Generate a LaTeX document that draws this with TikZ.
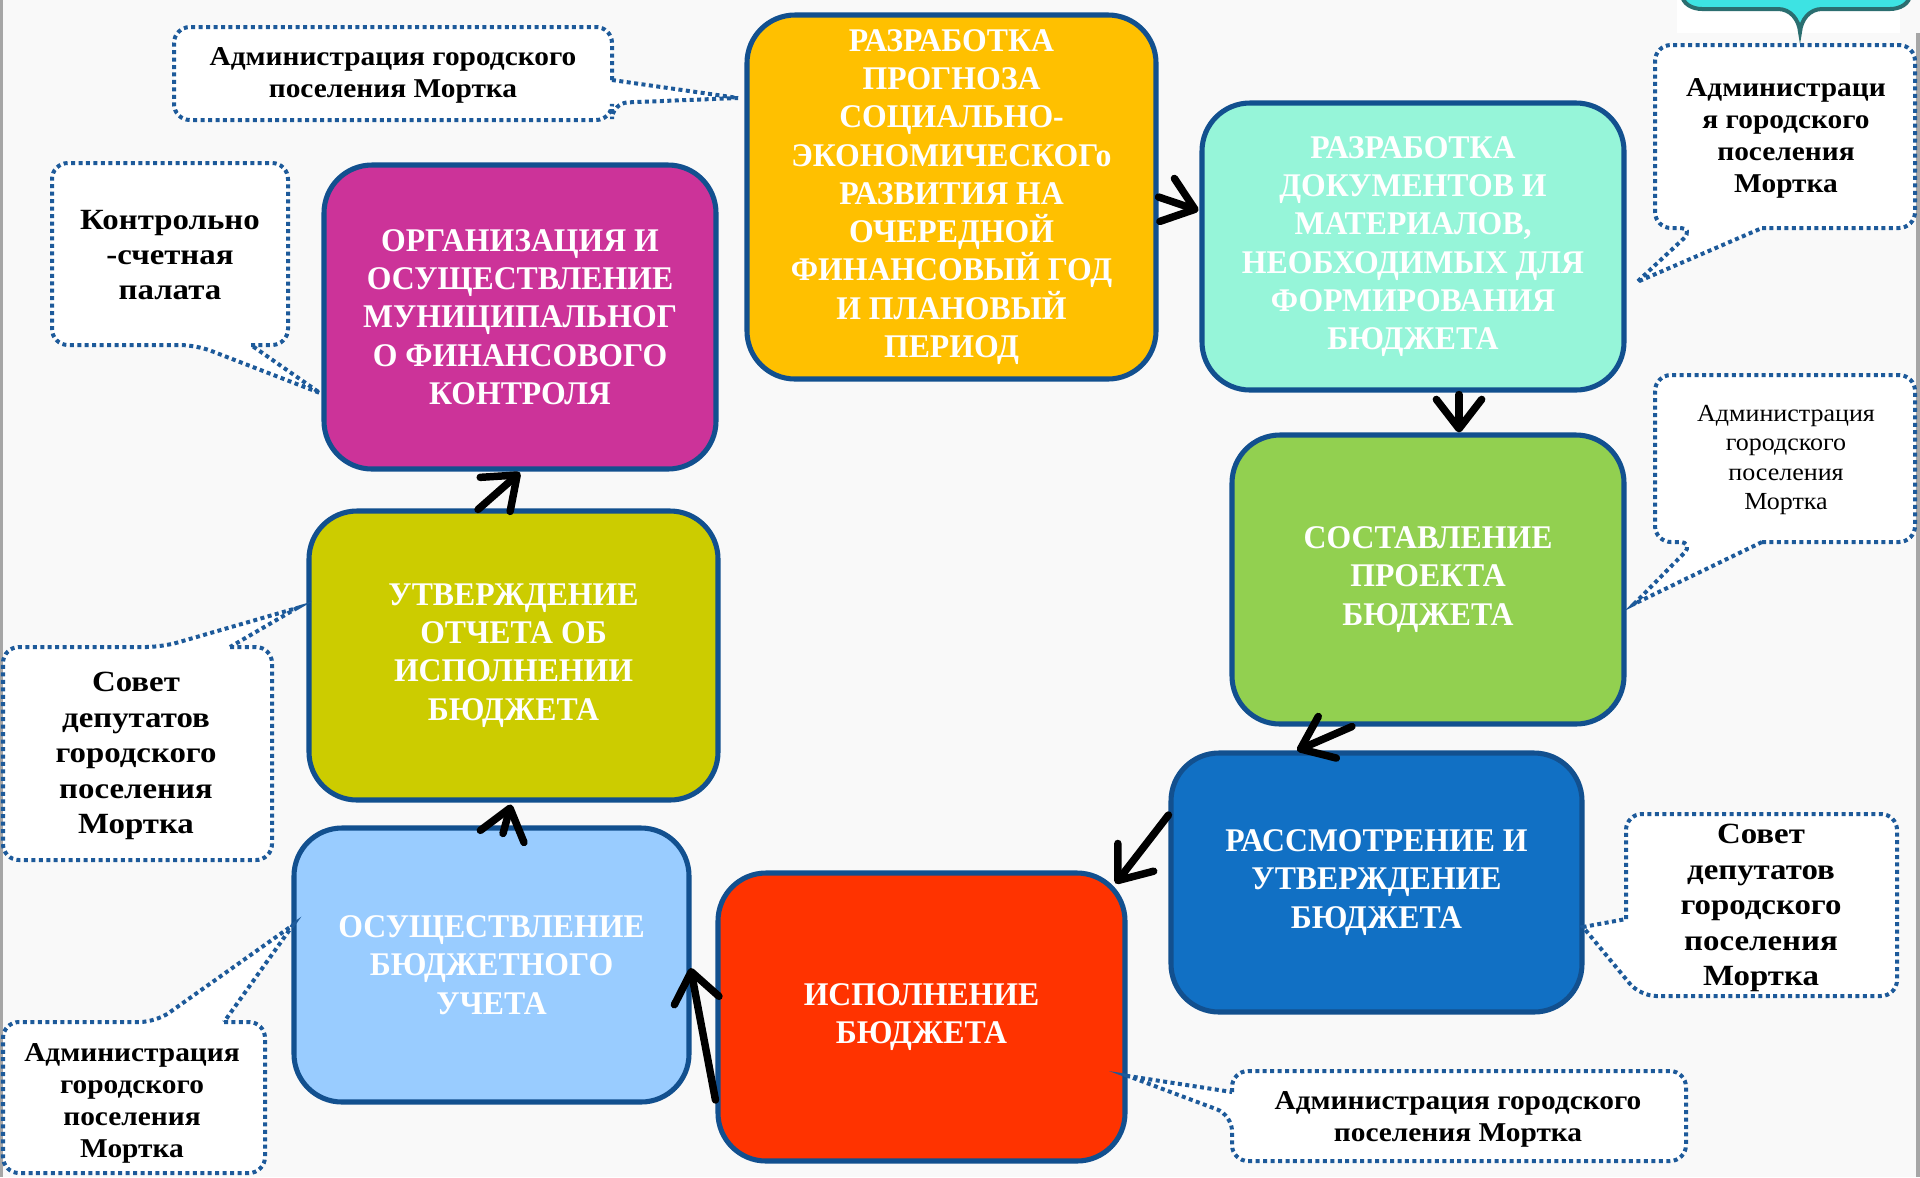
\documentclass[tikz,border=0pt]{standalone}
\usepackage{fontspec}
\setmainfont{Liberation Serif}
\newfontfamily\boxfont[FakeStretch=0.96]{Liberation Serif}
\newfontfamily\calfont[FakeStretch=1.08]{Liberation Serif}
\newfontfamily\calbigfont[FakeStretch=1.12]{Liberation Serif}
\newfontfamily\calthinfont[FakeStretch=1.06]{Liberation Serif}
\usetikzlibrary{arrows.meta,calc}
\definecolor{bgc}{HTML}{F9F9F9}
\definecolor{bordc}{HTML}{12508F}
\definecolor{dotc}{HTML}{1D5A9A}
\definecolor{cyellow}{HTML}{FFC000}
\definecolor{caqua}{HTML}{96F5D9}
\definecolor{cgreen}{HTML}{92D050}
\definecolor{cblue}{HTML}{1170C4}
\definecolor{cred}{HTML}{FF3300}
\definecolor{clblue}{HTML}{99CCFF}
\definecolor{colive}{HTML}{CCCC00}
\definecolor{cmag}{HTML}{CC3399}
\definecolor{ccyan}{HTML}{3DE3E3}
\definecolor{ccyanb}{HTML}{2B6E70}
\begin{document}
\begin{tikzpicture}[x=0.375pt,y=-0.375pt,
  stage/.style={draw=bordc, line width=1.9pt, rounded corners=18pt, align=center,
    text=white, font=\boxfont\bfseries\fontsize{12.4}{14.35}\selectfont, inner sep=0pt},
  calltext/.style={align=center, text=black, inner sep=0pt,
    font=\calfont\bfseries\fontsize{10.2}{12}\selectfont},
  callbig/.style={calltext, font=\calbigfont\bfseries\fontsize{11}{13.3}\selectfont},
  callthin/.style={calltext, font=\calthinfont\fontsize{9.2}{10.9}\selectfont},
  callline/.style={draw=dotc, line width=1.5pt, dash pattern=on 1.5pt off 1.3pt, rounded corners=6pt},
  flow/.style={draw=black, line width=2.8pt, line cap=round,
    -{Straight Barb[length=11pt,width=17pt,round]}}
]
\useasboundingbox (0,0) rectangle (1920,1177);
\fill[bgc] (0,0) rectangle (1920,1177);
\fill[gray!70] (0,0) rectangle (2.5,1177);
\fill[gray!70] (1916,33) rectangle (1920,1177);

% top-right partial callout
\fill[white] (1677,0) rectangle (1900,33);
\draw[fill=ccyan, draw=ccyanb, line width=1.5pt]
  (1682,-20) -- (1682,-6) to[out=-90,in=180] (1702,9) -- (1778,9)
  to[out=0,in=95] (1800,32) to[out=85,in=180] (1822,9) -- (1890,9)
  to[out=0,in=-90] (1910,-6) -- (1910,-20);

% main stages
\node[stage, fill=cyellow, minimum width=409*0.375pt, minimum height=364*0.375pt] (yellow) at (951.5,197)
  {РАЗРАБОТКА\\ПРОГНОЗА\\СОЦИАЛЬНО-\\ЭКОНОМИЧЕСКОГо\\РАЗВИТИЯ НА\\ОЧЕРЕДНОЙ\\ФИНАНСОВЫЙ ГОД\\И ПЛАНОВЫЙ\\ПЕРИОД};
\node[stage, fill=caqua, minimum width=422*0.375pt, minimum height=287*0.375pt] (aqua) at (1413,246.5)
  {РАЗРАБОТКА\\ДОКУМЕНТОВ И\\МАТЕРИАЛОВ,\\НЕОБХОДИМЫХ ДЛЯ\\ФОРМИРОВАНИЯ\\БЮДЖЕТА};
\node[stage, fill=cgreen, minimum width=392*0.375pt, minimum height=289*0.375pt] (green) at (1428,579.5)
  {СОСТАВЛЕНИЕ\\ПРОЕКТА\\БЮДЖЕТА};
\node[stage, fill=cblue, minimum width=411*0.375pt, minimum height=259*0.375pt] (blue) at (1376.5,882.5)
  {РАССМОТРЕНИЕ И\\УТВЕРЖДЕНИЕ\\БЮДЖЕТА};
\node[stage, fill=cred, minimum width=407*0.375pt, minimum height=288*0.375pt] (red) at (921.5,1017)
  {ИСПОЛНЕНИЕ\\БЮДЖЕТА};
\node[stage, fill=clblue, minimum width=395*0.375pt, minimum height=274*0.375pt] (lblue) at (491.5,965)
  {ОСУЩЕСТВЛЕНИЕ\\БЮДЖЕТНОГО\\УЧЕТА};
\node[stage, fill=colive, minimum width=409*0.375pt, minimum height=289*0.375pt] (olive) at (513.5,655.5)
  {УТВЕРЖДЕНИЕ\\ОТЧЕТА ОБ\\ИСПОЛНЕНИИ\\БЮДЖЕТА};
\node[stage, fill=cmag, minimum width=392*0.375pt, minimum height=304*0.375pt] (mag) at (520,317)
  {ОРГАНИЗАЦИЯ И\\ОСУЩЕСТВЛЕНИЕ\\МУНИЦИПАЛЬНОГ\\О ФИНАНСОВОГО\\КОНТРОЛЯ};

% flow arrows
\draw[flow] (yellow.east) -- ($(aqua.west)+(-1,-36)$);
\draw[flow] ($(aqua.south)+(46,2)$) -- ($(green.north)+(31,0)$);
\draw[flow] ($(green.south)+(-76,0)$) -- ($(blue.north)+(-79.5,0)$);
\draw[flow] ($(blue.west)+(0,-67.5)$) -- ($(red.north east)+(-12,13)$);
\draw[flow] ($(red.west)+(0,83)$) -- ($(lblue.east)+(-1,3)$);
\draw[flow] ($(lblue.north)+(11.5,8)$) -- ($(olive.south)+(-2.5,2)$);
\draw[flow] ($(olive.north)+(-35.5,1)$) -- ($(mag.south)+(0,1)$);

% callout outlines
\path[callline, fill=white] (612,80) -- (612,27) -- (174,27) -- (174,120) -- (612,120) -- (612,103)
  [sharp corners] -- (738,98) -- (612,80);
\path[callline, fill=white] (251,345) -- (288,345) -- (288,163) -- (52,163) -- (52,345) -- (196,345)
  [sharp corners] -- (320,393) -- (251,345);
\path[callline, fill=white] (1762,228) -- (1915,228) -- (1915,45) -- (1655,45) -- (1655,228) -- (1695,228)
  [sharp corners] -- (1637,282) -- (1762,228);
\path[callline, fill=white] (1762,542) -- (1915,542) -- (1915,375) -- (1655,375) -- (1655,542) -- (1695,542)
  [sharp corners] -- (1634,604) -- (1762,542);
\path[callline, fill=white] (1626,919) -- (1626,814) -- (1897,814) -- (1897,996) -- (1640,996)
  [sharp corners] -- (1583,927) -- (1626,919);
\path[callline, fill=white] (1232,1092) -- (1232,1071) -- (1686,1071) -- (1686,1161) -- (1232,1161) -- (1232,1115)
  [sharp corners] -- (1128,1076) -- (1232,1092);
\path[callline, fill=white] (230,647) -- (272,647) -- (272,860) -- (3,860) -- (3,647) -- (162,647)
  [sharp corners] -- (297,608) -- (230,647);
\path[callline, fill=white] (224,1022) -- (265,1022) -- (265,1173) -- (3,1173) -- (3,1022) -- (156,1022)
  [sharp corners] -- (293,925) -- (224,1022);

% callout texts
\node[calltext] (ca) at (393,75) {Администрация городского\\поселения Мортка};
\node[callbig] (cb) at (170,255) {Контрольно\\-счетная\\палата};
\node[calltext] (cc) at (1786,138) {Администраци\\я городского\\поселения\\Мортка};
\node[callthin] (cd) at (1786,460) {Администрация\\городского\\поселения\\Мортка};
\node[callbig] (ce) at (1761,908) {Совет\\депутатов\\городского\\поселения\\Мортка};
\node[calltext] (cf) at (1458,1119) {Администрация городского\\поселения Мортка};
\node[callbig] (cg) at (136,756) {Совет\\депутатов\\городского\\поселения\\Мортка};
\node[calltext] (ch) at (132,1103) {Администрация\\городского\\поселения\\Мортка};
\end{tikzpicture}
\end{document}
